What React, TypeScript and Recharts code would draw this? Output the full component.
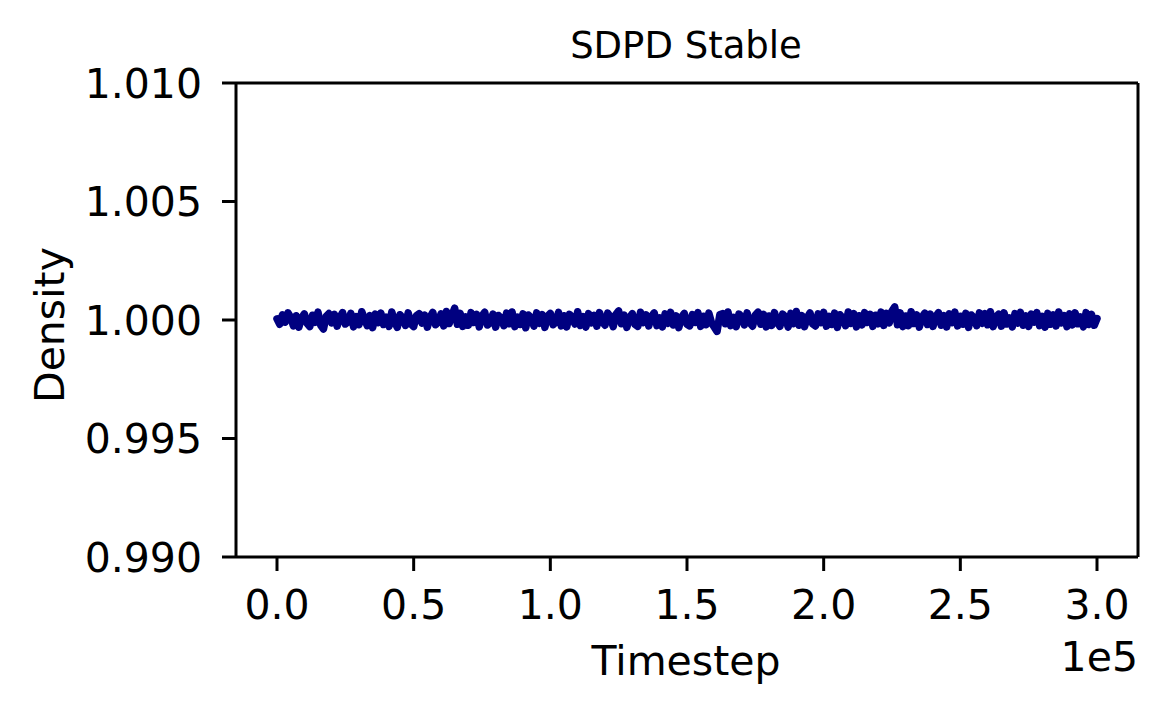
import { LineChart, Line, XAxis, YAxis, ReferenceLine } from "recharts";

// deviation from 1.0, in units of 1e-5, one reading every 1000 timesteps
const densityDev = [
  5, -18, 22, -9, 30, 12, -25, 18, -30, 8, 26, -14, -28, 20, -10, 33, -22, -38, 15, 27,
  -12, 24, -26, 10, 31, -17, -8, 28, -29, 14, -20, 35, 6, -24, 19, -32, 25, -11, 29, -19,
  12, -27, 34, -6, -31, 22, 9, -23, 30, -16, -28, 18, 27, -13, 21, -30, 11, 32, -20, -9,
  26, -25, 36, -15, 20, 50, -18, 28, -27, 13, -22, 31, -10, 24, -29, 17, 33, -21, -12, 25,
  -30, 19, 8, -24, 29, -16, 34, -28, 12, -19, 26, -33, 21, 9, -26, 30, -14, 23, -31, 16,
  28, -20, -9, 32, -25, 18, -29, 24, 11, -17, 35, -23, 14, -30, 27, -12, 20, -26, 31, -8,
  -22, 29, 13, -28, 24, 38, -16, 21, -31, 10, 27, -19, -27, 33, -11, 22, -25, 15, 30, -24,
  9, -29, 26, -14, 32, -21, 18, -32, 12, 28, -18, -25, 23, -10, 31, -27, 16, -20, 29, -13,
  -30, -48, 22, 27, -16, 34, -24, 11, -28, 25, 14, -21, 30, -12, -26, 21, 33, -18, 24, -29,
  17, -23, 31, -9, -27, 25, 13, -30, 28, -15, 36, -22, 19, -28, 10, 30, -17, -25, 26, -11,
  32, -26, 15, -19, 29, -31, 22, 8, -24, 34, -14, 27, -29, 18, -21, 31, -10, 24, -27, 20,
  -16, 33, -23, 28, -12, 38, 55, -20, 30, -28, 17, -24, 35, -15, 22, -30, 12, 29, -19, 25,
  -27, 14, 31, -22, 19, -29, 26, -11, 33, -25, 16, -18, 28, -31, 21, 10, -24, 30, -14, 27,
  -20, 35, -28, 13, 24, -26, 30, -17, 9, -29, 27, -13, 32, -22, 18, -27, 25, -9, 31, -24,
  15, -30, 28, -18, 22, -25, 34, -12, 19, -28, 26, -21, 30, -16, 13, -29, 31, -19, 24, -22,
  6,
];
const timestepStride = 1000;

const xTicks = [0, 50000, 100000, 150000, 200000, 250000, 300000];
const yTicks = [0.99, 0.995, 1.0, 1.005, 1.01];
const xDomain: [number, number] = [-15000, 315000];
const yDomain: [number, number] = [0.99, 1.01];

const data = densityDev.map((d, i) => ({
  step: i * timestepStride,
  density: 1 + d * 1e-5,
}));

const font = "DejaVu Sans";

export default function App() {
  return (
    <div
      style={{
        position: "absolute",
        left: 0,
        top: 0,
        width: 1167,
        height: 714,
        background: "#fff",
        fontFamily: font,
      }}
    >
      <LineChart
        width={1167}
        height={714}
        data={data}
        margin={{ top: 83, right: 29, left: 0, bottom: 0 }}
      >
        <XAxis
          dataKey="step"
          type="number"
          domain={xDomain}
          ticks={xTicks}
          allowDataOverflow
          height={157}
          tickSize={14}
          tickMargin={19}
          tickFormatter={(v: number) => (v / 1e5).toFixed(1)}
          tick={{ fill: "#000", fontSize: 41, fontFamily: font }}
          tickLine={{ stroke: "#000", strokeWidth: 3 }}
          axisLine={{ stroke: "#000", strokeWidth: 3 }}
        />
        <YAxis
          type="number"
          domain={yDomain}
          ticks={yTicks}
          allowDataOverflow
          width={236}
          tickSize={14}
          tickMargin={20}
          tickFormatter={(v: number) => v.toFixed(3)}
          tick={{ fill: "#000", fontSize: 41, fontFamily: font }}
          tickLine={{ stroke: "#000", strokeWidth: 3 }}
          axisLine={{ stroke: "#000", strokeWidth: 3 }}
        />
        {/* top and right spines */}
        <ReferenceLine y={yDomain[1]} stroke="#000" strokeWidth={3} />
        <ReferenceLine x={xDomain[1]} stroke="#000" strokeWidth={3} />
        <Line
          type="linear"
          dataKey="density"
          stroke="#000080"
          strokeWidth={7.5}
          strokeLinejoin="round"
          strokeLinecap="round"
          dot={false}
          isAnimationActive={false}
        />
      </LineChart>
      <svg
        width={1167}
        height={714}
        style={{ position: "absolute", left: 0, top: 0, pointerEvents: "none" }}
      >
        <text x={686} y={58} textAnchor="middle" fontSize={37} fontFamily={font} fill="#000">
          SDPD Stable
        </text>
        <text x={686} y={675} textAnchor="middle" fontSize={41} fontFamily={font} fill="#000">
          Timestep
        </text>
        <text x={1138} y={671} textAnchor="end" fontSize={41} fontFamily={font} fill="#000">
          1e5
        </text>
        <text
          transform="translate(64, 325) rotate(-90)"
          textAnchor="middle"
          fontSize={41}
          fontFamily={font}
          fill="#000"
        >
          Density
        </text>
      </svg>
    </div>
  );
}
